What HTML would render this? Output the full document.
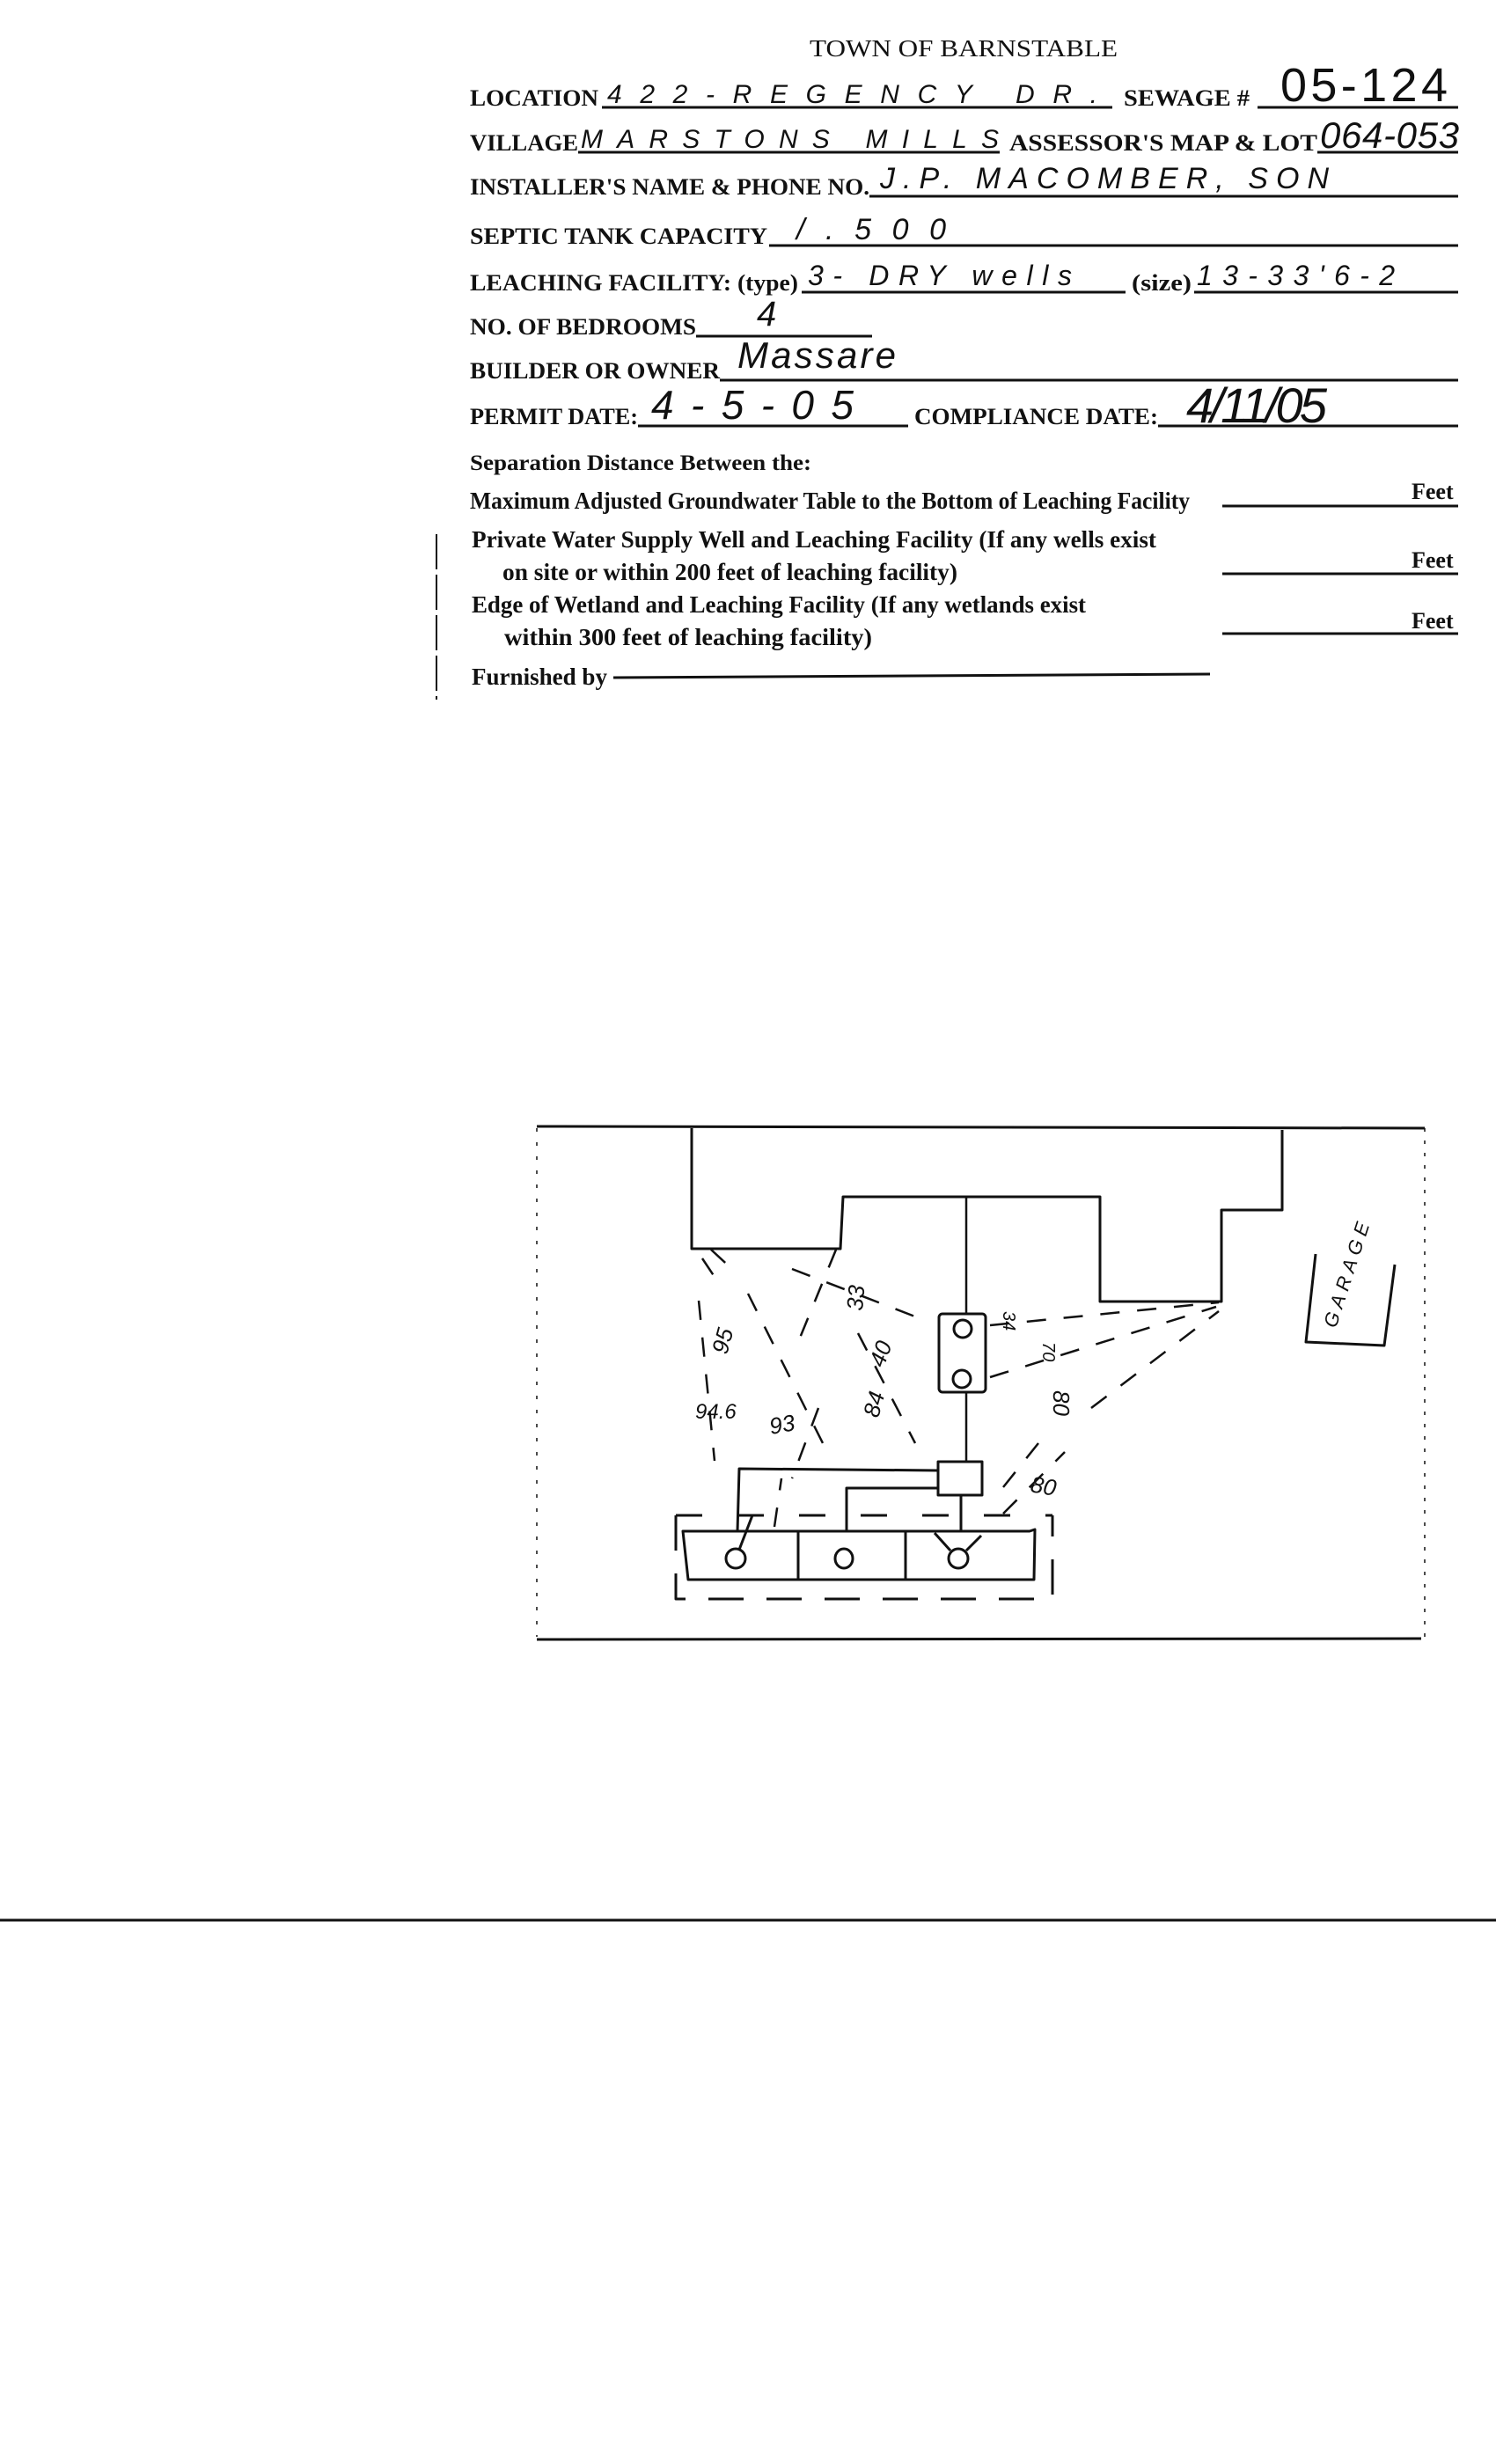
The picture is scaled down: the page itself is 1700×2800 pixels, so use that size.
<!DOCTYPE html>
<html><head><meta charset="utf-8"><style>
html,body{margin:0;padding:0;background:#fff;}
svg{display:block;}
.f{font-family:"Liberation Serif",serif;fill:#111;font-weight:bold;}
.h{font-family:"Liberation Sans",sans-serif;font-style:italic;fill:#111;}
</style></head><body>
<svg width="1700" height="2800" viewBox="0 0 1700 2800" xmlns="http://www.w3.org/2000/svg">
<g stroke="#111" stroke-width="3" fill="none">
<line x1="684" y1="122" x2="1264" y2="122"/>
<line x1="1429" y1="122" x2="1657" y2="122"/>
<line x1="657" y1="173" x2="1136" y2="173"/>
<line x1="1497" y1="173" x2="1657" y2="173"/>
<line x1="988" y1="223" x2="1657" y2="223"/>
<line x1="874" y1="279" x2="1657" y2="279"/>
<line x1="911" y1="332" x2="1279" y2="332"/>
<line x1="1357" y1="332" x2="1657" y2="332"/>
<line x1="791" y1="382" x2="991" y2="382"/>
<line x1="818" y1="432" x2="1657" y2="432"/>
<line x1="725" y1="484" x2="1032" y2="484"/>
<line x1="1316" y1="484" x2="1657" y2="484"/>
<line x1="1389" y1="575" x2="1657" y2="575"/>
<line x1="1389" y1="652" x2="1657" y2="652"/>
<line x1="1389" y1="720" x2="1657" y2="720"/>
<line x1="697" y1="770" x2="1375" y2="766"/>
<line x1="496" y1="607" x2="496" y2="795" stroke-width="2" stroke-dasharray="40 6"/>
<line x1="0" y1="2182" x2="1700" y2="2182"/>
</g>
<g class="f" lengthAdjust="spacingAndGlyphs">
<text x="1095" y="64" font-size="27" font-weight="normal" text-anchor="middle" textLength="350" lengthAdjust="spacingAndGlyphs">TOWN OF BARNSTABLE</text>
<text x="534" y="120" font-size="26" textLength="146" lengthAdjust="spacingAndGlyphs">LOCATION</text>
<text x="1277" y="120" font-size="26" textLength="143" lengthAdjust="spacingAndGlyphs">SEWAGE #</text>
<text x="534" y="171" font-size="26" textLength="123" lengthAdjust="spacingAndGlyphs">VILLAGE</text>
<text x="1147" y="171" font-size="26" textLength="350" lengthAdjust="spacingAndGlyphs">ASSESSOR'S MAP &amp; LOT</text>
<text x="534" y="221" font-size="26" textLength="454" lengthAdjust="spacingAndGlyphs">INSTALLER'S NAME &amp; PHONE NO.</text>
<text x="534" y="277" font-size="26" textLength="338" lengthAdjust="spacingAndGlyphs">SEPTIC TANK CAPACITY</text>
<text x="534" y="330" font-size="26" textLength="373" lengthAdjust="spacingAndGlyphs">LEACHING FACILITY: (type)</text>
<text x="1286" y="330" font-size="26" textLength="68" lengthAdjust="spacingAndGlyphs">(size)</text>
<text x="534" y="380" font-size="26" textLength="257" lengthAdjust="spacingAndGlyphs">NO. OF BEDROOMS</text>
<text x="534" y="430" font-size="26" textLength="284" lengthAdjust="spacingAndGlyphs">BUILDER OR OWNER</text>
<text x="534" y="482" font-size="26" textLength="191" lengthAdjust="spacingAndGlyphs">PERMIT DATE:</text>
<text x="1039" y="482" font-size="26" textLength="277" lengthAdjust="spacingAndGlyphs">COMPLIANCE DATE:</text>
<text x="534" y="534" font-size="25" textLength="388" lengthAdjust="spacingAndGlyphs">Separation Distance Between the:</text>
<text x="534" y="578" font-size="27" textLength="818" lengthAdjust="spacingAndGlyphs">Maximum Adjusted Groundwater Table to the Bottom of Leaching Facility</text>
<text x="536" y="622" font-size="27" textLength="778" lengthAdjust="spacingAndGlyphs">Private Water Supply Well and Leaching Facility  (If any wells exist</text>
<text x="571" y="659" font-size="27" textLength="517" lengthAdjust="spacingAndGlyphs">on site or within 200 feet of leaching facility)</text>
<text x="536" y="696" font-size="27" textLength="698" lengthAdjust="spacingAndGlyphs">Edge of Wetland and Leaching Facility (If any wetlands exist</text>
<text x="573" y="733" font-size="27" textLength="418" lengthAdjust="spacingAndGlyphs">within 300 feet of leaching facility)</text>
<text x="536" y="778" font-size="27" textLength="154" lengthAdjust="spacingAndGlyphs">Furnished by</text>
<text x="1604" y="567" font-size="26">Feet</text>
<text x="1604" y="645" font-size="26">Feet</text>
<text x="1604" y="714" font-size="26">Feet</text>
</g>
<g class="h">
<text x="690" y="117" font-size="30" textLength="565" letter-spacing="8">422-REGENCY DR.</text>
<text x="1455" y="115" font-size="54" font-style="normal" textLength="190">05-124</text>
<text x="660" y="168" font-size="30" textLength="475">MARSTONS  MILLS</text>
<text x="1500" y="168" font-size="42" textLength="158">064-053</text>
<text x="1000" y="214" font-size="34" textLength="510">J.P. MACOMBER, SON</text>
<text x="905" y="272" font-size="34" textLength="170">/.500</text>
<text x="918" y="324" font-size="32" textLength="300">3- DRY wells</text>
<text x="1360" y="324" font-size="32" textLength="225">13-33'6-2</text>
<text x="860" y="370" font-size="40">4</text>
<text x="838" y="418" font-size="42" textLength="180">Massare</text>
<text x="740" y="476" font-size="46" textLength="230">4-5-05</text>
<text x="1348" y="480" font-size="56" textLength="160">4/11/05</text>
</g>
<g stroke="#111" stroke-width="3" fill="none" stroke-linejoin="round">
<line x1="610" y1="1280" x2="1619" y2="1282"/>
<line x1="1619" y1="1282" x2="1619" y2="1860" stroke-width="1.5" stroke-dasharray="4 10"/>
<line x1="610" y1="1282" x2="610" y2="1860" stroke-width="1.5" stroke-dasharray="4 12"/>
<line x1="610" y1="1863" x2="1615" y2="1862"/>
<polyline points="786,1282 786,1419 955,1419 958,1360 1250,1360 1250,1479 1388,1479 1388,1375 1457,1375 1457,1284"/>
<line x1="1098" y1="1360" x2="1098" y2="1493" stroke-width="2.5"/>
<rect x="1067" y="1493" width="53" height="89" rx="4"/>
<line x1="1098" y1="1582" x2="1098" y2="1661" stroke-width="2.5"/>
<rect x="1066" y="1661" width="50" height="38"/>
<polyline points="1066,1671 840,1669 838,1740"/>
<polyline points="1066,1691 962,1691 962,1740"/>
<line x1="1092" y1="1699" x2="1092" y2="1740"/>
<path d="M776 1740 L1170 1740 L1176 1738 L1175 1795 L782 1795 Z"/>
<line x1="907" y1="1740" x2="907" y2="1795"/>
<line x1="1029" y1="1740" x2="1029" y2="1795"/>
<path d="M768 1722 L768 1817 L1196 1817 L1196 1722" stroke-dasharray="40 26"/>
<line x1="768" y1="1722" x2="1196" y2="1722" stroke-dasharray="30 40"/>
<ellipse cx="836" cy="1771" rx="11" ry="11"/>
<ellipse cx="959" cy="1771" rx="10" ry="11"/>
<ellipse cx="1089" cy="1771" rx="11" ry="11"/>
<line x1="840" y1="1761" x2="855" y2="1722"/>
<line x1="1080" y1="1762" x2="1062" y2="1742"/>
<line x1="1098" y1="1762" x2="1115" y2="1745"/>
<ellipse cx="1094" cy="1510" rx="10" ry="10"/>
<ellipse cx="1093" cy="1567" rx="10" ry="10"/>
<polyline points="1495,1425 1484,1525 1573,1529 1585,1437"/>
<g stroke-width="2.5" stroke-dasharray="22 20">
<line x1="798" y1="1430" x2="818" y2="1460"/>
<line x1="808" y1="1420" x2="835" y2="1445"/>
<line x1="794" y1="1478" x2="812" y2="1660"/>
<line x1="850" y1="1470" x2="940" y2="1650"/>
<line x1="950" y1="1420" x2="905" y2="1530"/>
<line x1="900" y1="1442" x2="1050" y2="1500"/>
<line x1="975" y1="1515" x2="1040" y2="1640"/>
<line x1="930" y1="1600" x2="900" y2="1680"/>
<line x1="880" y1="1735" x2="888" y2="1680"/>
<line x1="1125" y1="1506" x2="1385" y2="1480"/>
<line x1="1125" y1="1565" x2="1382" y2="1485"/>
<line x1="1240" y1="1600" x2="1385" y2="1490"/>
<line x1="1140" y1="1690" x2="1180" y2="1640"/>
<line x1="1140" y1="1720" x2="1210" y2="1650"/>
</g>
</g>
<g class="h" font-style="normal" font-size="26">
<text transform="translate(826,1540) rotate(-75)">95</text>
<text transform="translate(980,1490) rotate(-85)">33</text>
<text transform="translate(1004,1555) rotate(-70)">40</text>
<text transform="translate(998,1612) rotate(-75)">84</text>
<text x="790" y="1612" font-size="24">94.6</text>
<text transform="translate(876,1630) rotate(-10)">93</text>
<text transform="translate(1140,1490) rotate(90)" font-size="20">34</text>
<text transform="translate(1185,1525) rotate(90)" font-size="20">70</text>
<text transform="translate(1197,1580) rotate(90)">80</text>
<text transform="translate(1170,1695) rotate(10)">80</text>
<text transform="translate(1518,1510) rotate(-72)" font-size="22" letter-spacing="6">GARAGE</text>
</g>
</svg>
</body></html>
